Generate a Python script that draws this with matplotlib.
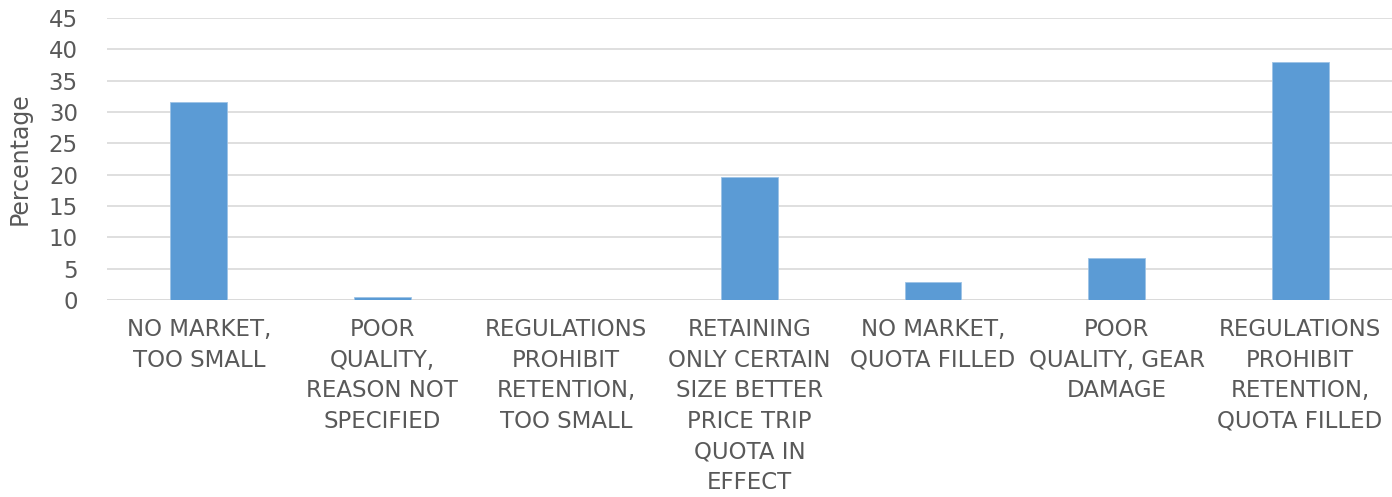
import matplotlib
matplotlib.use("Agg")
import matplotlib.pyplot as plt

# data
categories = [
    "NO MARKET,\nTOO SMALL",
    "POOR\nQUALITY,\nREASON NOT\nSPECIFIED",
    "REGULATIONS\nPROHIBIT\nRETENTION,\nTOO SMALL",
    "RETAINING\nONLY CERTAIN\nSIZE BETTER\nPRICE TRIP\nQUOTA IN\nEFFECT",
    "NO MARKET,\nQUOTA FILLED",
    "POOR\nQUALITY, GEAR\nDAMAGE",
    "REGULATIONS\nPROHIBIT\nRETENTION,\nQUOTA FILLED",
]
values = [31.6, 0.45, 0.0, 19.6, 2.9, 6.7, 38.0]
yticks = [0, 5, 10, 15, 20, 25, 30, 35, 40, 45]

plt.rcParams['font.family'] = ['DejaVu Sans']
text_col = "#595959"
grid_col = "#D9D9D9"

fig = plt.figure(figsize=(13.92, 4.97), dpi=100)
ax = fig.add_axes([0.0769, 0.396, 0.923, 0.568])

x = list(range(len(categories)))
ax.bar(x, values, width=0.31, color="#5B9BD5", edgecolor="#9DC3E6", linewidth=0.6, zorder=3)

ax.set_xlim(-0.5, len(categories) - 0.5)
ax.set_ylim(0, 45)
ax.set_yticks(yticks)
ax.set_xticks(x)
ax.set_xticklabels(categories, fontsize=16.5, color=text_col, linespacing=1.42, va="top")
ax.tick_params(axis="y", labelsize=16.5, colors=text_col, length=0, pad=21)
ax.tick_params(axis="x", length=0, pad=13)
ax.yaxis.grid(True, color=grid_col, linewidth=1.2, zorder=0)
for s in ax.spines.values():
    s.set_visible(False)
ax.axhline(0, color=grid_col, linewidth=1.2, zorder=1)

ax.set_ylabel("Percentage", fontsize=17, color=text_col, labelpad=12)

fig.savefig("out.png", dpi=100)
